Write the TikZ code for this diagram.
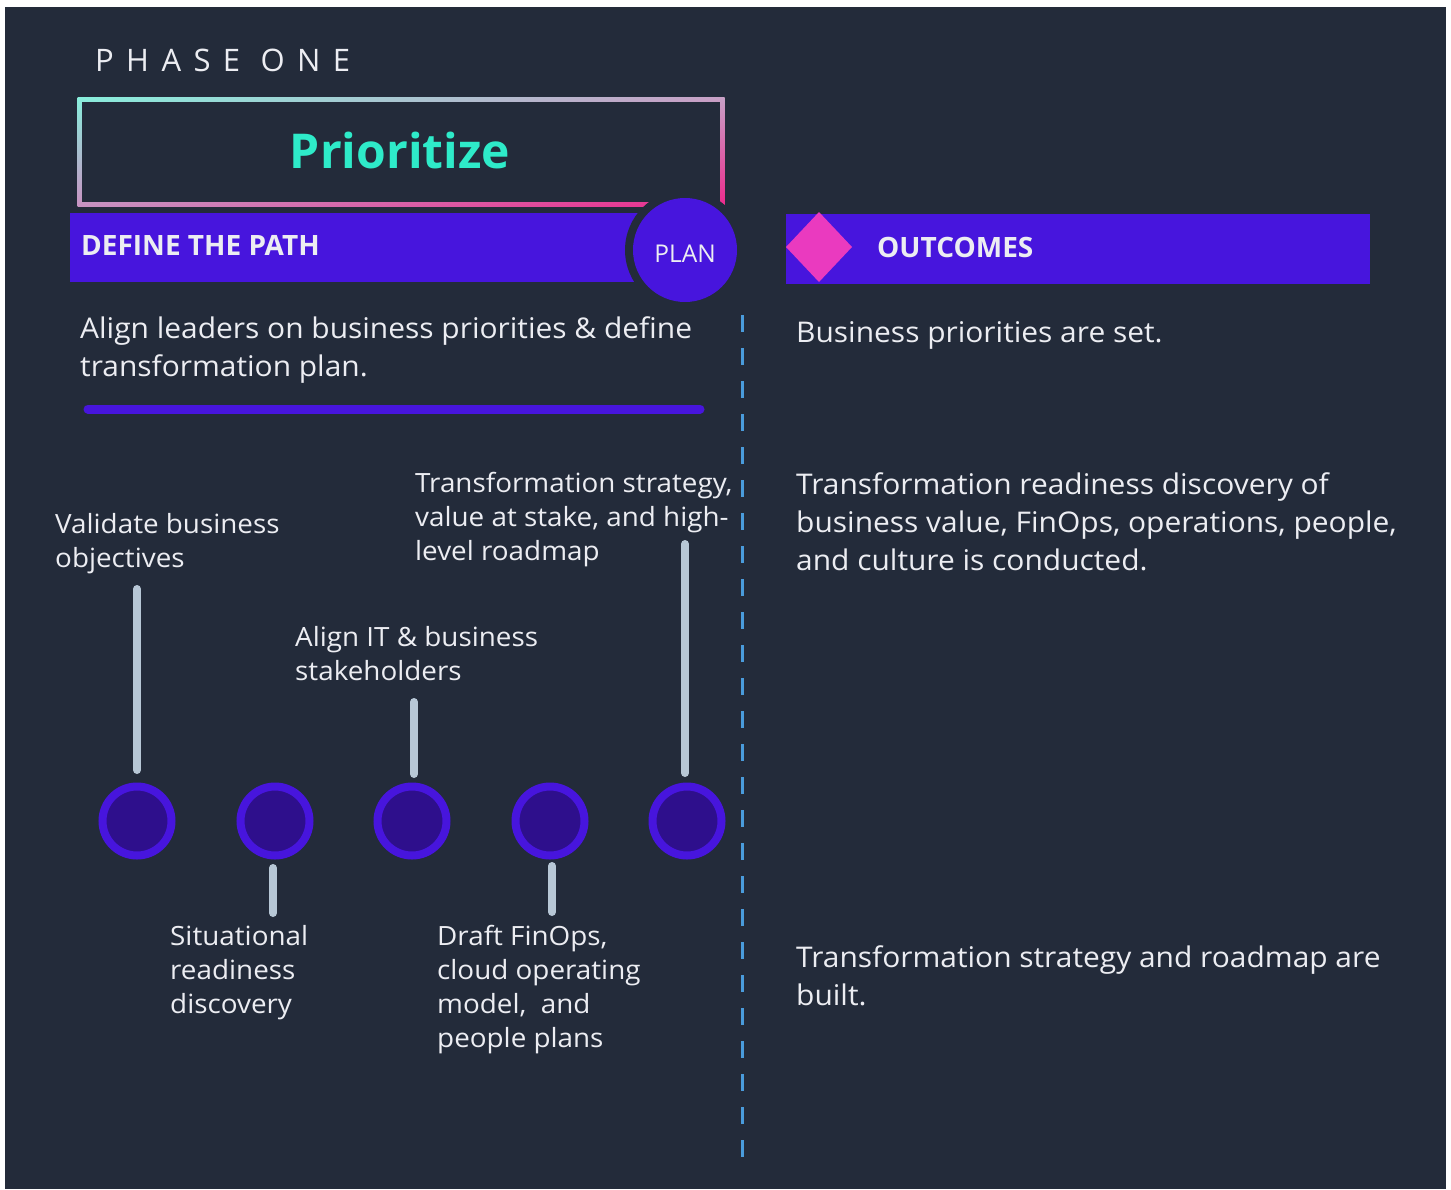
\documentclass[tikz,border=0pt]{standalone}
\usepackage{fontspec}
\usetikzlibrary{shadings}
\setmainfont{Open Sans}
\newfontfamily\phasefont[LetterSpace=40]{Open Sans}
\newfontfamily\bodyfont[FakeStretch=1.05]{Open Sans}
\definecolor{bg}{HTML}{232B3A}
\definecolor{barpurple}{HTML}{4715DD}
\definecolor{dotinner}{HTML}{2E0F8C}
\definecolor{pinkd}{HTML}{EA3ABF}
\definecolor{tealt}{HTML}{2EEBC9}
\definecolor{dashc}{HTML}{4A9CDC}
\definecolor{stemc}{HTML}{B7C7D6}
\definecolor{txt}{HTML}{ECEDF2}
\definecolor{gUL}{HTML}{88EEDC}
\definecolor{gUR}{HTML}{C8A0C6}
\definecolor{gLL}{HTML}{C892C2}
\definecolor{gLR}{HTML}{EC2A8C}
\begin{document}
\begin{tikzpicture}[x=1pt,y=-1pt,
  bodytext/.style={anchor=north west, inner sep=0pt, align=left, text=txt, font=\bodyfont\fontsize{28.5}{38}\selectfont},
  labtext/.style={anchor=north west, inner sep=0pt, align=left, text=txt, font=\bodyfont\fontsize{26.5}{34}\selectfont},
  headtext/.style={anchor=base west, inner sep=0pt, text=txt, font=\bfseries\fontsize{28}{30}\selectfont},
  stemline/.style={draw=stemc, line width=8pt, line cap=round},
  dotnode/.style={circle, draw=barpurple, fill=dotinner, line width=8pt, minimum size=69pt, inner sep=0pt},
  divider/.style={draw=dashc, line width=3pt, dash pattern=on 17pt off 16pt}
]
\useasboundingbox (0,0) rectangle (1451,1189);
\fill[white] (0,0) rectangle (1451,1189);
\fill[bg] (5,7) rectangle (1446,1189);

% title
\node[anchor=base west, inner sep=0pt, text=txt, font=\phasefont\fontsize{31}{36}\selectfont] (phase) at (95,71.7) {PHASE ONE};

% gradient box
\shade[upper left=gUL, upper right=gUR, lower left=gLL, lower right=gLR] (77.5,97.5) rectangle (724.5,206);
\fill[bg] (82,102) rectangle (720,201.5);
\node[anchor=base, inner sep=0pt, text=tealt, font=\bfseries\fontsize{48}{56}\selectfont] (prio) at (400,168) {Prioritize};

% define bar
\fill[barpurple] (70,213) rectangle (670,282);
\node[headtext] (define) at (81,255) {DEFINE THE PATH};

% plan circle
\node[circle, fill=bg, minimum size=120pt, inner sep=0pt] (halo) at (685,250) {};
\node[circle, fill=barpurple, minimum size=104pt, inner sep=0pt] (plan) at (685,250) {};
\node[anchor=base, inner sep=0pt, text=txt, font=\fontsize{24.5}{28}\selectfont] (plantext) at (685,262) {PLAN};

% outcomes bar
\fill[barpurple] (786,214) rectangle (1370,284);
\fill[pinkd] (786,247) -- (819,212) -- (852,247) -- (819,282) -- cycle;
\node[headtext] (outc) at (877,257) {OUTCOMES};

% description
\node[bodytext] (desc) at (80,316) {Align leaders on business priorities \& define\\transformation plan.};
\draw[barpurple, line width=9pt, line cap=round] (88,409) -- (700,409);

% divider
\coordinate (dtop) at (742,315);
\coordinate (dbot) at (742,1160);
\draw[divider] (dtop) -- (dbot);

% outcomes text
\node[bodytext] (o1) at (796,321) {Business priorities are set.};
\node[bodytext] (o2) at (796,472) {Transformation readiness discovery of\\business value, FinOps, operations, people,\\and culture is conducted.};
\node[bodytext] (o3) at (796,945) {Transformation strategy and roadmap are\\built.};

% timeline dots
\node[dotnode] (c1) at (137,821) {};
\node[dotnode] (c2) at (275,821) {};
\node[dotnode] (c3) at (412,821) {};
\node[dotnode] (c4) at (550,821) {};
\node[dotnode] (c5) at (687,821) {};

% labels
\node[labtext] (l1) at (55,513) {Validate business\\objectives};
\node[labtext] (l2) at (170,925) {Situational\\readiness\\discovery};
\node[labtext] (l3) at (295,626) {Align IT \& business\\stakeholders};
\node[labtext] (l4) at (437,925) {Draft FinOps,\\cloud operating\\model,\ \ and\\people plans};
\node[labtext] (l5) at (415,472) {Transformation strategy,\\value at stake, and high-\\level roadmap};

% stems
\coordinate (s1a) at (137,589); \coordinate (s1b) at (137,770);
\coordinate (s2a) at (273,868); \coordinate (s2b) at (273,913);
\coordinate (s3a) at (414,702); \coordinate (s3b) at (414,774);
\coordinate (s4a) at (552,866); \coordinate (s4b) at (552,912);
\coordinate (s5a) at (685,544); \coordinate (s5b) at (685,773);
\draw[stemline] (s1a) -- (s1b);
\draw[stemline] (s2a) -- (s2b);
\draw[stemline] (s3a) -- (s3b);
\draw[stemline] (s4a) -- (s4b);
\draw[stemline] (s5a) -- (s5b);
\end{tikzpicture}
\end{document}
